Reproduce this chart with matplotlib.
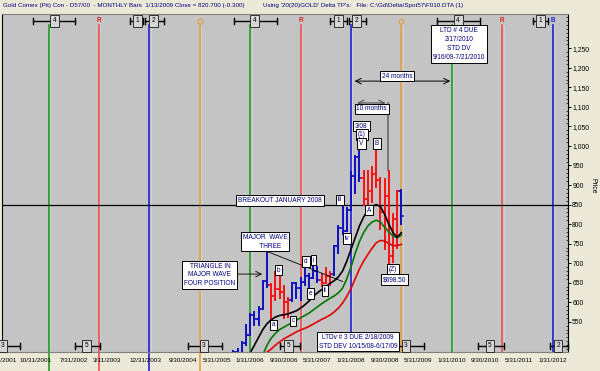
import matplotlib.pyplot as plt
from matplotlib.ticker import MultipleLocator, FuncFormatter

# month index: 0 = Jan 2008
bar_month = list(range(-28, 13))
bar_open = [434, 473, 470, 495, 517, 568, 556, 583, 654, 643, 616, 633, 626, 600,
            606, 648, 636, 651, 667, 663, 680, 657, 650, 667, 673, 743, 789, 783,
            836, 923, 971, 917, 864, 885, 927, 912, 832, 871, 717, 814, 884]
bar_high = [476, 479, 497, 541, 571, 575, 588, 654, 730, 646, 677, 665, 641, 610,
            650, 650, 661, 690, 672, 693, 689, 672, 687, 677, 745, 796, 848, 842,
            933, 975, 995, 935, 937, 945, 988, 917, 915, 935, 826, 885, 887]
bar_low = [432, 463, 457, 490, 516, 541, 541, 582, 640, 543, 605, 612, 560, 561,
           603, 611, 605, 645, 636, 661, 651, 641, 648, 643, 669, 725, 775, 781,
           836, 880, 910, 850, 848, 856, 896, 787, 735, 698.5, 702, 740, 800]
bar_close = [473, 470, 495, 517, 568, 556, 583, 654, 643, 616, 633, 626, 600, 606,
             648, 636, 651, 667, 663, 680, 657, 650, 667, 673, 743, 789, 783, 836,
             923, 971, 917, 864, 885, 927, 912, 832, 871, 717, 814, 884, 821]
bar_dir = ['b'] * 9 + ['r'] * 5 + ['b'] * 7 + ['r'] * 3 + ['b'] * 7 + ['r'] * 9 + ['b']

# moving averages
ma_black_month = list(range(-24, 13))
ma_black = [470, 490, 510, 530, 545, 555, 562, 566, 568, 570, 574, 578, 585, 593,
            603, 615, 624, 632, 640, 648, 655, 665, 680, 705, 735, 765, 795, 818,
            835, 845, 850, 845, 825, 800, 778, 766, 778]
ma_green_month = list(range(-21, 13))
ma_green = [465, 490, 508, 520, 530, 536, 542, 548, 554, 560, 566, 572, 580, 588,
            596, 603, 610, 616, 624, 636, 660, 690, 725, 755, 778, 795, 805, 810,
            805, 792, 780, 770, 765, 772]
ma_red_month = list(range(-20, 13))
ma_red = [472, 480, 490, 498, 506, 512, 518, 524, 529, 533, 538, 544, 550, 556,
          561, 567, 575, 585, 598, 615, 635, 660, 685, 705, 722, 738, 752, 758,
          757, 750, 745, 745, 748]

# yearly cycle lines (January of each year)
cycle_month = [-72, -60, -48, -36, -24, -12, 0, 12, 24, 36, 48]
cycle_color = ['#1E9E1E', '#F05050', '#2020D8', '#E0A040'] * 3

# period markers: (label, left, centre, right) in months
top_marks = [('4', -75.7, -70.5, -65.7), ('1', -52.6, -50.8, -49.5),
             ('2', -49.0, -47.0, -44.5), ('4', -27.9, -22.9, -17.6),
             ('1', -5.0, -2.9, -1.0), ('2', -0.5, 1.4, 3.6),
             ('4', 20.5, 25.5, 30.7), ('1', 43.3, 45.2, 46.9)]
bot_marks = [('3', -88.0, -83.0, -78.8), ('5', -65.7, -62.9, -59.8),
             ('3', -38.8, -35.0, -30.7), ('5', -16.9, -14.8, -12.1),
             ('3', 10.5, 13.1, 17.4), ('5', 30.2, 33.1, 36.4),
             ('2', 47.4, 49.3, 51.7)]

date_ticks = [-83, -75, -66, -58, -49, -40, -32, -24, -16, -8, 0, 8, 16, 24, 32, 40, 48]
date_labels = ['2/28/2001', '10/31/2001', '7/31/2002', '3/31/2003', '12/31/2003',
               '9/30/2004', '5/31/2005', '1/31/2006', '9/30/2006', '5/31/2007',
               '1/31/2008', '9/30/2008', '5/31/2009', '1/31/2010', '9/30/2010',
               '5/31/2011', '1/31/2012']

plt.rcParams['font.family'] = ['Liberation Sans', 'DejaVu Sans']
FS = 4.7
NAVY = '#000080'
BG = '#ECE9D8'

fig = plt.figure(figsize=(6, 3.71), dpi=100, facecolor=BG)
ax = fig.add_axes([2 / 600, 19 / 371, 566 / 600, 338 / 371])
ax.set_facecolor('#C4C4C4')
ax.set_xlim(-83.1, 51.67)
ax.set_ylim(472.5, 1337.8)

# cycle lines
for m, c in zip(cycle_month, cycle_color):
    low = 423.9 if m < -24 else 472.5
    ax.plot([m, m], [low, 1309], color=c, lw=1.2, clip_on=False, zorder=1)
    ax.plot([m + 0.35, m + 0.35], [472.5, 1309], color='#D8D8D8', lw=0.5, zorder=1)
ax.axhline(850, color='black', lw=0.9, zorder=2)

# price bars
bar_col = {'b': '#1010C0', 'r': '#FF1010'}
for m, o, h, l, c, d in zip(bar_month, bar_open, bar_high, bar_low, bar_close, bar_dir):
    col = bar_col[d]
    ax.plot([m, m], [l, h], color=col, lw=1.4, zorder=4)
    ax.plot([m - 0.5, m], [o, o], color=col, lw=1.1, zorder=4)
    ax.plot([m, m + 0.5], [c, c], color=col, lw=1.1, zorder=4)

ax.plot(ma_red_month, ma_red, color='#E00000', lw=1.2, zorder=5)
ax.plot(ma_green_month, ma_green, color='#007800', lw=1.2, zorder=5)
ax.plot(ma_black_month, ma_black, color='black', lw=1.2, zorder=5)

# cycle tops
for m in [-60, -12, 36]:
    ax.text(m, 1320, 'R', color='#E02020', fontsize=FS, ha='center', va='center', fontweight='bold')
for m in [-36, 12]:
    ax.plot(m, 1320, 'o', mfc='none', mec='#E0A040', ms=3.5, mew=0.8)
ax.text(48, 1320, 'B', color='#2020D8', fontsize=FS, ha='center', va='center', fontweight='bold')


def marker(lab, left, mid, right, y):
    ax.plot([left, right], [y, y], color='black', lw=1.0, zorder=6, clip_on=False)
    for e in (left, right):
        ax.plot([e, e], [y - 7, y + 7], color='black', lw=1.0, zorder=6, clip_on=False)
    ax.text(mid, y, lab, fontsize=FS, ha='center', va='center', zorder=7,
            bbox=dict(boxstyle='square,pad=0.4', fc='#D6D6D6', ec='#303030', lw=0.7))


for lab, l, mid, r in top_marks:
    marker(lab, l, mid, r, 1320)
for lab, l, mid, r in bot_marks:
    marker(lab, l, mid, r, 488)

box = dict(boxstyle='square,pad=0.28', fc='white', ec='black', lw=0.7)


def label(x, y, s, ha='center', **kw):
    ax.text(x, y, s, fontsize=FS, color=NAVY, ha=ha, va='center', bbox=box, zorder=8, **kw)


label(25.7, 1261, 'LTD # 4 DUE\n2/17/2010\nSTD DV\n9/16/09-7/21/2010', linespacing=1.45)
label(1.7, 499, 'LTDv # 3 DUE 2/18/2009\nSTD DEV 10/15/08-6/17/09', linespacing=1.35)
label(-16.9, 860, 'BREAKOUT JANUARY 2008')
label(-20.5, 755, 'MAJOR  WAVE\n      THREE', linespacing=1.35)
label(-33.6, 670, 'TRIANGLE IN\nMAJOR WAVE\nFOUR POSITION', linespacing=1.3)

# arrows and trend line
ax.annotate('', xy=(-20.5, 672), xytext=(-27.6, 672),
            arrowprops=dict(arrowstyle='->', color='black', lw=0.6), zorder=8)
ax.plot([-20, -2], [730, 653], color='black', lw=0.6, zorder=6)
ax.plot([-20, -20], [730, 750], color='black', lw=0.6, zorder=6)
ax.annotate('', xy=(0.2, 1166), xytext=(24.3, 1166),
            arrowprops=dict(arrowstyle='<->', color='black', lw=0.7), zorder=8)
label(10.9, 1179, '24 months')
ax.annotate('', xy=(0.8, 1110), xytext=(8.9, 1110),
            arrowprops=dict(arrowstyle='<->', color='#505050', lw=0.8), zorder=8)
ax.plot([8.8, 8.8], [1110, 938], color='#707070', lw=1.3, zorder=3)
label(4.9, 1095, '10 months')

waves = [(-18.5, 542, 'a'), (-17.3, 682, 'b'), (-13.8, 552, 'c'), (-10.7, 705, 'd'),
         (-9.6, 622, 'e'), (-8.9, 708, 'i'), (-6.2, 630, 'ii'), (-2.6, 862, 'iii'),
         (-1.0, 763, 'iv'), (2.5, 1051, '3/08'), (2.6, 1030, '(1)'), (2.5, 1007, 'V'),
         (4.3, 836, 'A'), (6.1, 1006, 'B'), (9.9, 684, '(Z)'), (10.4, 658, '$698.50')]
for x, y, s in waves:
    label(x, y, s)

# axes styling
for s in ['left', 'right']:
    ax.spines[s].set_color('black')
for s in ['top', 'bottom']:
    ax.spines[s].set_color('#808080')
ax.yaxis.tick_right()
ax.yaxis.set_minor_locator(MultipleLocator(10))
ax.set_yticks([v for v in range(550, 1251, 50)])
ax.yaxis.set_major_formatter(FuncFormatter(lambda v, p: f'{int(v):,}'))
ax.tick_params(axis='y', which='major', direction='out', length=2.2, width=0.7, pad=0.8,
               labelsize=4.9)
ax.tick_params(axis='y', which='minor', direction='in', length=1.4, width=0.5)
ax.set_xticks(date_ticks)
ax.set_xticklabels(date_labels)
ax.tick_params(axis='x', length=0, pad=4, labelsize=4.6)

fig.text(593 / 600, 1 - 186 / 371, 'Price', rotation=270, fontsize=4.9, ha='center', va='center')
fig.text(3 / 600, 1 - 6 / 371,
         "Gold Comex (Pit) Con - D57/00  - MONTHLY Bars  1/13/2009 Close = 820.700 (-0.300)",
         color=NAVY, fontsize=4.5, ha='left', va='center')
fig.text(263 / 600, 1 - 6 / 371,
         "Using '20(20)GOLD' Delta TP's:   File: C:\\Gd\\Delta\\Spot57\\F010.DTA (1)",
         color=NAVY, fontsize=4.5, ha='left', va='center')

fig.savefig('out.png', dpi=100, facecolor=BG)
